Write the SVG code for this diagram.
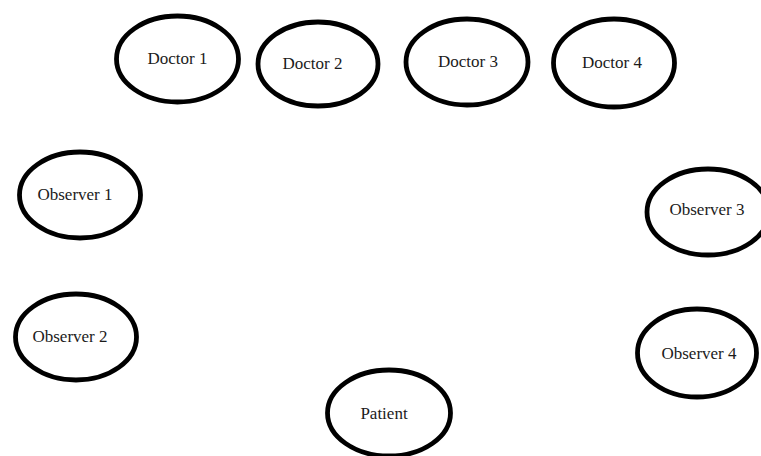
<svg xmlns="http://www.w3.org/2000/svg" width="761" height="456" viewBox="0 0 761 456">
<style>
  ellipse { fill: #ffffff; stroke: #000000; stroke-width: 4.8; }
  text { font-family: "Liberation Serif", "Times New Roman", serif; font-size: 17px; fill: #1b1b1b; text-anchor: middle; }
</style>
<rect width="761" height="456" fill="#ffffff"/>
<g id="connectors"></g>
<g id="doctor1"><ellipse cx="177.5" cy="59" rx="61" ry="43"/><text x="177.5" y="64">Doctor 1</text></g>
<g id="doctor2"><ellipse cx="318" cy="64" rx="60" ry="42"/><text x="312.5" y="69">Doctor 2</text></g>
<g id="doctor3"><ellipse cx="467" cy="62" rx="61" ry="43"/><text x="468" y="67">Doctor 3</text></g>
<g id="doctor4"><ellipse cx="614" cy="63" rx="60.5" ry="44"/><text x="612" y="68">Doctor 4</text></g>
<g id="observer1"><ellipse cx="80" cy="195" rx="60.5" ry="43"/><text x="75" y="200">Observer 1</text></g>
<g id="observer2"><ellipse cx="76" cy="337" rx="60.5" ry="43"/><text x="70" y="342">Observer 2</text></g>
<g id="observer3"><ellipse cx="708" cy="212" rx="61" ry="43"/><text x="707" y="215">Observer 3</text></g>
<g id="observer4"><ellipse cx="697" cy="353" rx="59.5" ry="44"/><text x="699" y="359">Observer 4</text></g>
<g id="patient"><ellipse cx="389" cy="413" rx="61.5" ry="43"/><text x="384" y="419">Patient</text></g>
</svg>
